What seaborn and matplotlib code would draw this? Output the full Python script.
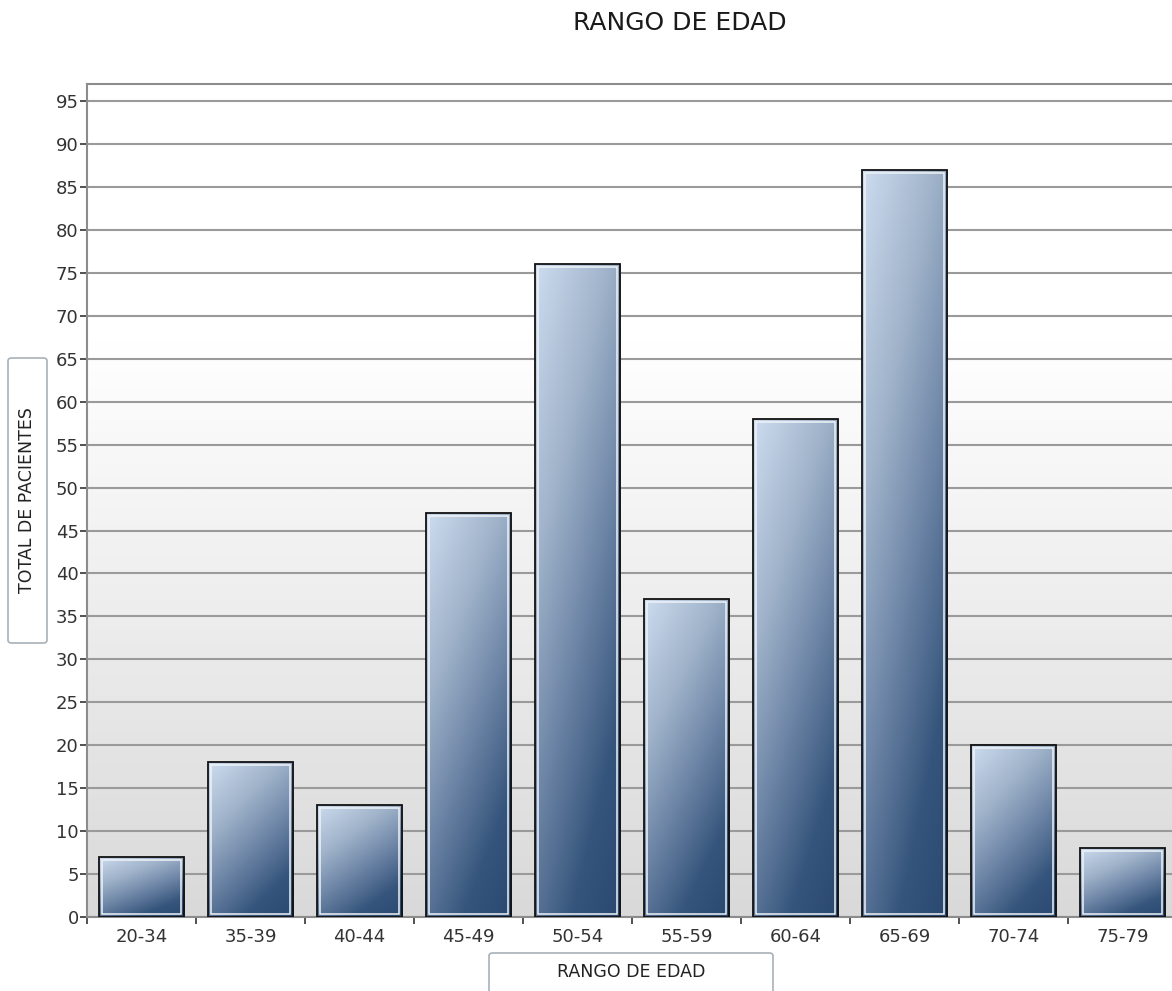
import numpy as np
import pandas as pd
import matplotlib
matplotlib.use("Agg")
import matplotlib.pyplot as plt
import seaborn as sns
from matplotlib.colors import LinearSegmentedColormap, to_rgb
from matplotlib.patches import Rectangle, FancyBboxPatch
from matplotlib.ticker import FixedLocator

# Patients per age range
age_groups = ["20-34", "35-39", "40-44", "45-49", "50-54",
              "55-59", "60-64", "65-69", "70-74", "75-79"]
patients = [7, 18, 13, 47, 76, 37, 58, 87, 20, 8]

title_text = "RANGO DE EDAD"
x_label = "RANGO DE EDAD"
y_label = "TOTAL DE PACIENTES"
y_ticks = list(range(0, 100, 5))

sns.set_style("white")
plt.rcParams["font.family"] = ["DejaVu Sans"]

df = pd.DataFrame({"rango": age_groups, "pacientes": patients})

W, H = 1172, 991
fig = plt.figure(figsize=(W / 100, H / 100), dpi=100)
fig.patch.set_facecolor("white")
ax = fig.add_axes([87 / W, 74 / H, 1090 / W, 833 / H])

sns.barplot(data=df, x="rango", y="pacientes", width=0.78, ax=ax,
            facecolor="none", edgecolor="#111111", linewidth=1.3,
            zorder=4, errorbar=None)

# plot-area background: white at top fading to light grey at the bottom
frac = np.linspace(1, 0, 200)
shade = np.clip((0.69 - frac) / 0.69, 0, 1)[:, None]
top_c = np.array(to_rgb("#ffffff"))
bot_c = np.array(to_rgb("#d9d9d9"))
bg = (top_c * (1 - shade) + bot_c * shade)[:, None, :].repeat(2, axis=1)
ax.imshow(bg, extent=[0, 1, 0, 1], transform=ax.transAxes, aspect="auto",
          zorder=0, interpolation="bilinear")

# diagonal blue gradient inside each bar
bar_cmap = LinearSegmentedColormap.from_list(
    "bars", [(0.0, "#cddcef"), (0.3, "#a0b3ca"), (0.55, "#6d85a6"),
             (0.8, "#36557c"), (1.0, "#2a4870")])
u = np.linspace(0, 1, 60)[None, :]
v = np.linspace(0, 1, 200)[:, None]
grad = np.clip(0.35 * u + 0.65 * v, 0, 1)
px_x = 1 / 109.0   # data units per pixel horizontally
px_y = 97 / 833.0  # data units per pixel vertically
for patch in ax.patches:
    x0, w, h = patch.get_x(), patch.get_width(), patch.get_height()
    img = ax.imshow(bar_cmap(grad), extent=[x0, x0 + w, 0, h], aspect="auto",
                    zorder=3, interpolation="bilinear")
    img.set_clip_path(patch)
    ax.add_patch(Rectangle((x0 + 3 * px_x, 3 * px_y), w - 6 * px_x,
                           h - 6 * px_y, facecolor="none",
                           edgecolor="#eef3f8", linewidth=1.1, zorder=3.5))

ax.set_xlim(-0.5, len(age_groups) - 0.5)
ax.set_ylim(0, 97)
ax.set_yticks(y_ticks)
ax.yaxis.grid(True, color="#9a9a9a", linewidth=1.5, zorder=1)
ax.set_axisbelow(True)
ax.set_xlabel("")
ax.set_ylabel("")

for side in ["left", "top", "right", "bottom"]:
    ax.spines[side].set_color("#8c8c8c")
    ax.spines[side].set_linewidth(1.5)
    ax.spines[side].set_visible(True)

ax.tick_params(axis="y", which="major", left=True, length=5, width=1.2,
               color="#333333", labelsize=13, labelcolor="#333333", pad=1)
ax.tick_params(axis="x", which="major", bottom=True, length=0,
               labelsize=13, labelcolor="#333333", pad=8)
ax.xaxis.set_minor_locator(FixedLocator(np.arange(-0.5, len(age_groups), 1)))
ax.tick_params(axis="x", which="minor", bottom=True, length=5, width=1.2,
               color="#333333")

fig.text(680 / W, 1 - 23 / H, title_text, ha="center", va="center",
         fontsize=18, color="#1a1a1a")

# boxed axis titles
fig.patches.append(FancyBboxPatch((8 / W, 348 / H), 39 / W, 285 / H,
                                  boxstyle="round,pad=0,rounding_size=0.003",
                                  transform=fig.transFigure, facecolor="white",
                                  edgecolor="#a8b0b8", linewidth=1.2))
fig.text(27.5 / W, 1 - 500 / H, y_label, rotation=90, ha="center",
         va="center", fontsize=12.5, color="#222222")

fig.patches.append(FancyBboxPatch((489 / W, -10 / H), 284 / W, 48 / H,
                                  boxstyle="round,pad=0,rounding_size=0.003",
                                  transform=fig.transFigure, facecolor="white",
                                  edgecolor="#a8b0b8", linewidth=1.2))
fig.text(631 / W, 1 - 972 / H, x_label, ha="center", va="center",
         fontsize=12.5, color="#222222")

fig.savefig("out.png", dpi=100)
